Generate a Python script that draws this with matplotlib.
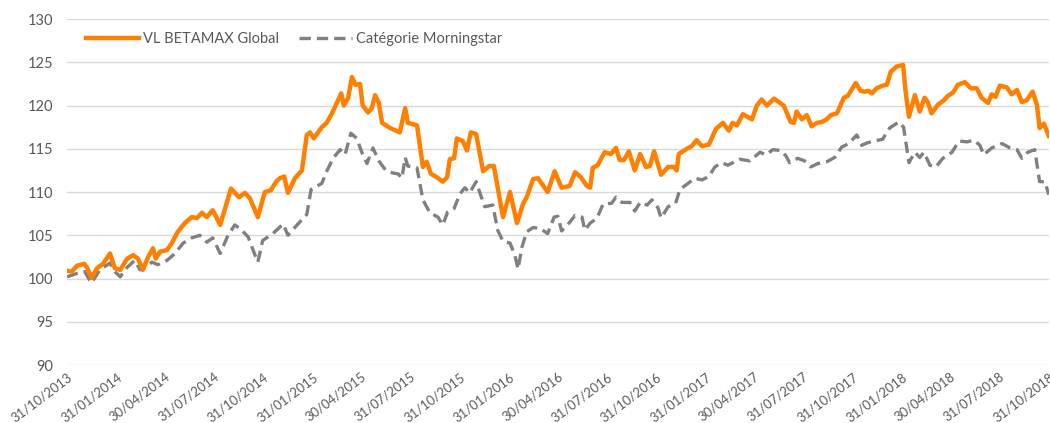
import matplotlib
matplotlib.use("Agg")
import matplotlib.pyplot as plt
import pandas as pd

plt.rcParams['font.family'] = ['Lato', 'DejaVu Sans']

start_date = "2013-10-31"
end_date = "2018-10-31"

series_names = ["VL BETAMAX Global", "Catégorie Morningstar"]

# day offsets from 31/10/2013 and values
fund_days = [0, 9, 19, 32, 37, 46, 56, 67, 80, 89, 99, 112, 123, 132, 141, 151, 160, 165, 173, 186,
             195, 206, 219, 232, 242, 251, 260, 271, 285, 305, 320, 331, 340, 355, 368, 379, 389, 396,
             404, 411, 424, 437, 446, 452, 459, 474, 483, 493, 510, 515, 523, 530, 537, 545, 550, 560,
             567, 573, 580, 586, 601, 612, 619, 629, 634, 651, 662, 669, 677, 688, 699, 707, 712, 720,
             725, 736, 744, 751, 761, 774, 785, 794, 811, 824, 837, 848, 855, 867, 876, 885, 894, 907,
             920, 935, 945, 956, 967, 973, 978, 987, 1000, 1012, 1021, 1028, 1036, 1045, 1056, 1066,
             1077, 1084, 1092, 1105, 1118, 1129, 1134, 1138, 1153, 1162, 1171, 1181, 1194, 1207, 1220,
             1231, 1238, 1246, 1257, 1274, 1283, 1292, 1302, 1315, 1324, 1333, 1346, 1352, 1357, 1367,
             1376, 1385, 1395, 1404, 1413, 1421, 1432, 1445, 1452, 1467, 1476, 1484, 1491, 1497, 1506,
             1517, 1525, 1532, 1543, 1555, 1560, 1566, 1577, 1586, 1595, 1601, 1608, 1620, 1631, 1638,
             1648, 1657, 1670, 1681, 1692, 1701, 1713, 1720, 1727, 1735, 1748, 1757, 1767, 1776, 1785,
             1796, 1804, 1809, 1817, 1826]
fund_values = [100.9, 100.8, 101.5, 101.7, 101.3, 100.1, 101.2, 101.7, 102.9, 101.2, 101.0, 102.3, 102.7,
               102.3, 101.0, 102.5, 103.5, 102.3, 103.1, 103.3, 104.1, 105.4, 106.4, 107.1, 107.0, 107.6,
               107.1, 107.9, 106.2, 110.4, 109.4, 109.9, 109.3, 107.1, 110.0, 110.2, 111.2, 111.6, 111.8,
               109.9, 111.6, 112.5, 116.6, 116.9, 116.2, 117.5, 118.0, 119.1, 121.4, 120.0, 120.9, 123.3,
               122.4, 122.5, 120.0, 119.2, 119.7, 121.2, 120.3, 118.0, 117.4, 117.1, 116.9, 119.7, 118.0,
               117.7, 112.9, 113.5, 112.1, 111.7, 111.2, 111.7, 113.8, 113.9, 116.2, 115.9, 114.8, 116.9,
               116.7, 112.4, 113.0, 113.0, 107.1, 110.0, 106.4, 108.6, 109.4, 111.5, 111.6, 110.8, 110.0,
               112.4, 110.5, 110.7, 112.3, 111.7, 110.7, 110.5, 112.8, 113.1, 114.6, 114.4, 115.1, 113.7,
               113.7, 114.7, 112.5, 114.4, 112.9, 113.0, 114.7, 112.0, 112.9, 112.9, 112.5, 114.4, 115.0,
               115.3, 116.0, 115.3, 115.5, 117.3, 118.0, 117.1, 118.0, 117.7, 119.0, 118.4, 120.0, 120.7,
               120.0, 120.8, 120.4, 120.0, 118.1, 118.0, 119.3, 118.4, 118.9, 117.6, 118.0, 118.1, 118.4,
               118.9, 119.1, 120.9, 121.1, 122.6, 121.7, 121.6, 121.7, 121.4, 122.0, 122.3, 122.4, 123.9,
               124.5, 124.7, 121.5, 118.7, 121.2, 119.3, 120.9, 120.4, 119.1, 120.1, 120.6, 121.1, 121.5,
               122.4, 122.7, 122.0, 122.0, 120.9, 120.3, 121.3, 121.0, 122.3, 122.1, 121.3, 121.8, 120.4,
               120.6, 121.6, 120.1, 117.4, 117.9, 116.5]

category_days = [0, 19, 33, 45, 52, 61, 80, 89, 99, 112, 126, 136, 145, 158, 169, 186, 201, 216, 232, 247,
                 260, 271, 285, 298, 312, 325, 337, 346, 355, 364, 383, 402, 411, 428, 446, 454, 474, 483,
                 495, 508, 517, 528, 539, 549, 558, 569, 580, 593, 606, 616, 623, 629, 634, 651, 662, 675,
                 690, 699, 708, 720, 731, 740, 749, 761, 768, 777, 792, 801, 811, 824, 833, 839, 846, 855,
                 867, 880, 894, 906, 913, 920, 935, 945, 958, 963, 973, 986, 997, 1013, 1021, 1032, 1047,
                 1056, 1066, 1079, 1088, 1099, 1105, 1118, 1132, 1140, 1155, 1168, 1181, 1194, 1205, 1218,
                 1229, 1242, 1251, 1270, 1289, 1300, 1313, 1328, 1337, 1344, 1359, 1372, 1383, 1397, 1413,
                 1428, 1441, 1454, 1469, 1478, 1489, 1502, 1517, 1530, 1547, 1556, 1566, 1577, 1586, 1594,
                 1605, 1616, 1629, 1646, 1659, 1674, 1687, 1698, 1705, 1720, 1739, 1754, 1767, 1776, 1787,
                 1800, 1809, 1819, 1826]
category_values = [100.2, 100.6, 100.8, 99.5, 100.1, 101.0, 101.8, 100.8, 100.2, 101.3, 102.1, 101.0, 101.3,
                   101.9, 101.6, 102.1, 102.9, 104.1, 104.7, 105.0, 104.2, 104.7, 102.9, 104.8, 106.2, 105.6,
                   104.8, 103.3, 101.9, 104.4, 105.2, 106.3, 105.0, 106.2, 107.4, 110.3, 111.0, 112.4, 113.9,
                   114.9, 114.3, 116.8, 116.2, 114.5, 113.3, 115.1, 113.6, 112.5, 112.2, 112.1, 111.6, 114.0,
                   113.0, 112.8, 109.1, 107.6, 107.1, 106.2, 107.7, 108.1, 109.8, 110.5, 109.9, 111.2, 109.9,
                   108.3, 108.5, 105.6, 104.3, 104.1, 102.7, 101.1, 103.6, 105.4, 105.9, 105.8, 105.2, 107.1,
                   107.2, 105.5, 106.5, 107.3, 107.1, 105.6, 106.4, 107.0, 108.6, 108.7, 109.4, 108.8, 108.8,
                   107.8, 108.8, 108.5, 109.1, 108.2, 107.0, 108.3, 108.7, 110.3, 111.0, 111.6, 111.4, 111.8,
                   112.9, 113.4, 113.1, 113.5, 113.8, 113.6, 114.6, 114.3, 114.9, 114.8, 114.2, 113.4, 113.9,
                   113.6, 112.9, 113.3, 113.5, 114.0, 115.2, 115.6, 116.6, 115.4, 115.7, 115.9, 116.1, 117.4,
                   118.1, 117.5, 113.4, 114.6, 114.0, 114.6, 113.1, 112.9, 113.9, 114.6, 115.9, 115.8, 116.0,
                   115.4, 114.3, 115.1, 115.6, 115.1, 114.9, 113.9, 114.6, 114.9, 111.2, 111.2, 109.7]

tick_labels = ["31/10/2013", "31/01/2014", "30/04/2014", "31/07/2014", "31/10/2014", "31/01/2015",
               "30/04/2015", "31/07/2015", "31/10/2015", "31/01/2016", "30/04/2016", "31/07/2016",
               "31/10/2016", "31/01/2017", "30/04/2017", "31/07/2017", "31/10/2017", "31/01/2018",
               "30/04/2018", "31/07/2018", "31/10/2018"]

y_ticks = [90, 95, 100, 105, 110, 115, 120, 125, 130]

t0 = pd.Timestamp(start_date)
fund_dates = t0 + pd.to_timedelta(fund_days, unit="D")
cat_dates = t0 + pd.to_timedelta(category_days, unit="D")
tick_dates = pd.to_datetime(tick_labels, format="%d/%m/%Y")

fig = plt.figure(figsize=(10.5, 4.23), dpi=100)
ax = fig.add_axes([0.0638, 0.137, 0.935, 0.818])

label_color = "#595959"
ax.plot(fund_dates, fund_values, color="#FF7F00", lw=3.2, solid_joinstyle="round",
        label=series_names[0], zorder=3)
ax.plot(cat_dates, category_values, color="#808080", lw=2.4, linestyle=(0, (3.4, 1.8)),
        label=series_names[1], zorder=2)

ax.set_ylim(90, 130)
ax.set_yticks(y_ticks)
ax.set_xlim(pd.Timestamp(start_date), pd.Timestamp(end_date))
ax.set_xticks(tick_dates)
ax.set_xticklabels(tick_labels, rotation=37, ha="right", va="top", rotation_mode="anchor",
                   fontsize=9.4, color=label_color)
for lab in ax.get_yticklabels():
    lab.set_color(label_color)
    lab.set_fontsize(10.5)
ax.tick_params(axis="both", length=0)
ax.tick_params(axis="y", pad=10)
ax.tick_params(axis="x", pad=4)
ax.grid(axis="y", color="#D9D9D9", lw=1.0)
ax.set_axisbelow(True)
for s in ax.spines.values():
    s.set_visible(False)

leg = ax.legend(loc="upper left", bbox_to_anchor=(0.006, 1.0), ncol=2, frameon=False,
                fontsize=10.5, handlelength=3.6, columnspacing=1.4, handletextpad=0.3)
for t in leg.get_texts():
    t.set_color(label_color)

fig.savefig("out.png", dpi=100)
